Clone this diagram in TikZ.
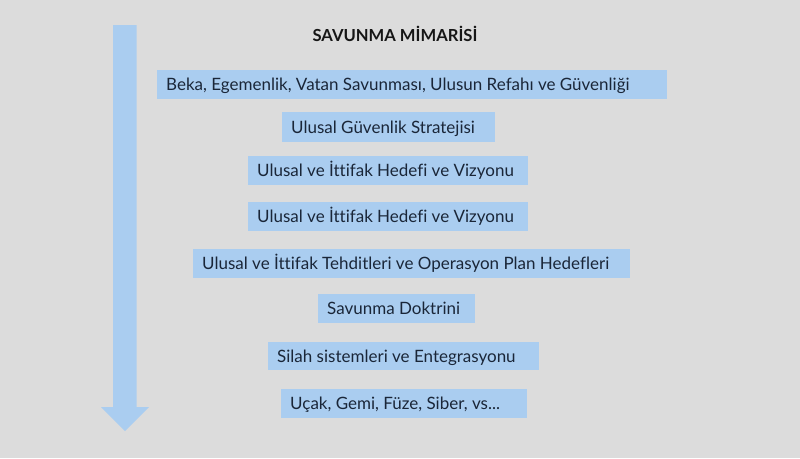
\documentclass[tikz,border=0pt]{standalone}
\usepackage{fontspec}
\setmainfont{Lato}[Ligatures={NoCommon}]
\definecolor{bg}{HTML}{DCDCDC}
\definecolor{lblue}{HTML}{AACDF0}
\definecolor{navy}{HTML}{1A2638}
\definecolor{ttl}{HTML}{161616}
\tikzset{
  box/.style={fill=lblue, anchor=north west, inner xsep=9pt, inner ysep=0pt,
    text=navy, font=\fontsize{17}{20}\selectfont, text height=12.2pt, text depth=0pt},
}
\newcommand{\bx}[6]{%
  \node[box, minimum width=#4pt-#2pt, minimum height=#5pt-#3pt] (#1) at (#2,#3)
    {\makebox[\dimexpr #4pt-#2pt-18pt\relax][l]{#6}};}
\begin{document}
\begin{tikzpicture}[x=1pt,y=-1pt]
\fill[bg] (0,0) rectangle (800,458);
\useasboundingbox (0,0) rectangle (800,458);
% arrow
\fill[lblue] (113,25) -- (136.5,25) -- (136.5,407) -- (149,407) -- (125,431) -- (101,407) -- (113,407) -- cycle;
% title
\node[font=\bfseries\fontsize{16.6}{20}\selectfont, text=ttl, inner sep=0pt, text height=11.9pt, text depth=0pt] (title) at (395,36) {SAVUNMA MİMARİSİ};
% boxes
\bx{b1}{157}{70}{667}{99}{Beka, Egemenlik, Vatan Savunması, Ulusun Refahı ve Güvenliği}
\bx{b2}{282}{112}{495}{142}{Ulusal Güvenlik Stratejisi}
\bx{b3}{248}{156}{528}{184.5}{Ulusal ve İttifak Hedefi ve Vizyonu}
\bx{b4}{248}{202}{528}{231}{Ulusal ve İttifak Hedefi ve Vizyonu}
\bx{b5}{193}{249}{630}{277.5}{Ulusal ve İttifak Tehditleri ve Operasyon Plan Hedefleri}
\bx{b6}{318}{294}{475}{323}{Savunma Doktrini}
\bx{b7}{268}{342}{539}{370}{Silah sistemleri ve Entegrasyonu}
\bx{b8}{281}{389}{527}{418}{Uçak, Gemi, Füze, Siber, vs...}
\end{tikzpicture}
\end{document}
